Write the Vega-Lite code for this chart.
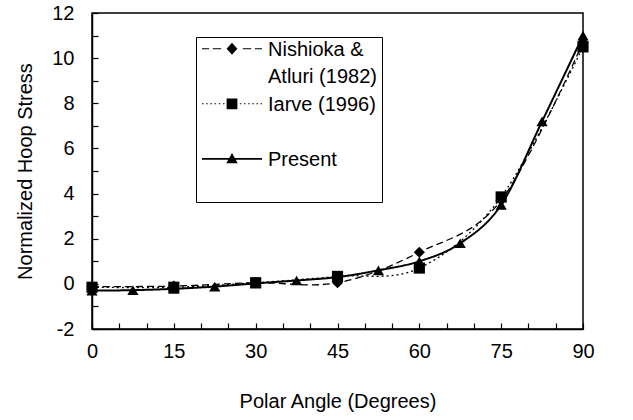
{
  "$schema": "https://vega.github.io/schema/vega-lite/v6.json",
  "width": 491,
  "height": 316,
  "autosize": "none",
  "padding": {"left": 92, "top": 13, "right": 50, "bottom": 91},
  "config": {
    "font": "Liberation Sans",
    "view": {"stroke": "black", "strokeWidth": 1.5},
    "style": {"guide-label": {"lineHeight": 27}},
    "axis": {
      "grid": false,
      "domainColor": "black",
      "domainWidth": 1.5,
      "tickColor": "black",
      "tickWidth": 1.2,
      "tickSize": -6,
      "labelColor": "black",
      "labelFont": "Liberation Sans",
      "labelFontSize": 20,
      "titleFont": "Liberation Sans",
      "titleFontSize": 20,
      "titleFontWeight": "normal",
      "titleColor": "black",
      "labelOverlap": false,
      "labelFlush": false
    }
  },
  "data": {
    "values": [
      {"series": "Nishioka & Atluri (1982)", "angle": 0, "stress": -0.12},
      {"series": "Nishioka & Atluri (1982)", "angle": 15, "stress": -0.1},
      {"series": "Nishioka & Atluri (1982)", "angle": 30, "stress": 0.05},
      {"series": "Nishioka & Atluri (1982)", "angle": 45, "stress": 0.05},
      {"series": "Nishioka & Atluri (1982)", "angle": 60, "stress": 1.4},
      {"series": "Nishioka & Atluri (1982)", "angle": 75, "stress": 3.7},
      {"series": "Nishioka & Atluri (1982)", "angle": 90, "stress": 10.7},
      {"series": "Iarve (1996)", "angle": 0, "stress": -0.15},
      {"series": "Iarve (1996)", "angle": 15, "stress": -0.15},
      {"series": "Iarve (1996)", "angle": 30, "stress": 0.05},
      {"series": "Iarve (1996)", "angle": 45, "stress": 0.33},
      {"series": "Iarve (1996)", "angle": 60, "stress": 0.7},
      {"series": "Iarve (1996)", "angle": 75, "stress": 3.85},
      {"series": "Iarve (1996)", "angle": 90, "stress": 10.5},
      {"series": "Present", "angle": 0, "stress": -0.3},
      {"series": "Present", "angle": 7.5, "stress": -0.28},
      {"series": "Present", "angle": 15, "stress": -0.22},
      {"series": "Present", "angle": 22.5, "stress": -0.12},
      {"series": "Present", "angle": 30, "stress": 0.02},
      {"series": "Present", "angle": 37.5, "stress": 0.15},
      {"series": "Present", "angle": 45, "stress": 0.3},
      {"series": "Present", "angle": 52.5, "stress": 0.6},
      {"series": "Present", "angle": 60, "stress": 1.0},
      {"series": "Present", "angle": 67.5, "stress": 1.8},
      {"series": "Present", "angle": 75, "stress": 3.5},
      {"series": "Present", "angle": 82.5, "stress": 7.2},
      {"series": "Present", "angle": 90, "stress": 11.0}
    ]
  },
  "encoding": {
    "x": {
      "field": "angle",
      "type": "quantitative",
      "scale": {"domain": [0, 90], "nice": false, "zero": false},
      "axis": {
        "title": "Polar Angle (Degrees)",
        "values": [0, 5, 10, 15, 20, 25, 30, 35, 40, 45, 50, 55, 60, 65, 70, 75, 80, 85, 90],
        "labelExpr": "datum.value % 15 === 0 ? datum.label : ''",
        "labelPadding": 18,
        "titlePadding": 30
      }
    },
    "y": {
      "field": "stress",
      "type": "quantitative",
      "scale": {"domain": [-2, 12], "nice": false, "zero": false},
      "axis": {
        "title": "Normalized Hoop Stress",
        "values": [-2, -1, 0, 1, 2, 3, 4, 5, 6, 7, 8, 9, 10, 11, 12],
        "labelExpr": "datum.value % 2 === 0 ? '' + datum.value : ''",
        "labelPadding": 24,
        "titlePadding": 16
      }
    }
  },
  "resolve": {"scale": {"shape": "independent"}, "legend": {"shape": "independent"}},
  "layer": [
    {
      "mark": {"type": "line", "interpolate": "cardinal", "color": "black"},
      "encoding": {
        "detail": {"field": "series", "type": "nominal"},
        "strokeDash": {
          "condition": [
            {"test": "datum.series === 'Nishioka & Atluri (1982)'", "value": [7, 4]},
            {"test": "datum.series === 'Iarve (1996)'", "value": [2, 3]}
          ],
          "value": [1, 0]
        },
        "strokeWidth": {
          "condition": {"test": "datum.series === 'Present'", "value": 2},
          "value": 1.3
        }
      }
    },
    {
      "mark": {"type": "point", "filled": true, "color": "black", "opacity": 1, "size": 125},
      "encoding": {
        "shape": {
          "field": "series",
          "type": "nominal",
          "scale": {"domain": ["Nishioka & Atluri (1982)", "Iarve (1996)", "Present"], "range": ["diamond", "square", "triangle-up"]},
          "legend": null
        }
      }
    },
    {
      "transform": [{"filter": "datum.angle < -100"}],
      "mark": {"type": "point", "filled": true, "color": "black", "stroke": "black", "strokeWidth": 0.4, "opacity": 1, "size": 729},
      "encoding": {
        "shape": {
          "field": "series",
          "type": "nominal",
          "scale": {
            "domain": ["Nishioka & Atluri (1982)", "Iarve (1996)", "Present"],
            "range": [
              "M-2.222,-0.57H-1.689V-0.496H-2.222Z M-1.422,-0.57H-0.8V-0.496H-1.422Z M0.8,-0.57H1.422V-0.496H0.8Z M1.689,-0.57H2.222V-0.496H1.689Z M0,-0.978L0.4,-0.533L0,-0.089L-0.4,-0.533Z",
              "M-2.222,-0.57h0.111V-0.496h-0.111Z M-1.911,-0.57h0.111V-0.496h-0.111Z M-1.6,-0.57h0.111V-0.496h-0.111Z M-1.289,-0.57h0.111V-0.496h-0.111Z M-0.978,-0.57h0.111V-0.496h-0.111Z M-0.667,-0.57h0.111V-0.496h-0.111Z M0.578,-0.57h0.111V-0.496h-0.111Z M0.889,-0.57h0.111V-0.496h-0.111Z M1.2,-0.57h0.111V-0.496h-0.111Z M1.511,-0.57h0.111V-0.496h-0.111Z M1.822,-0.57h0.111V-0.496h-0.111Z M2.111,-0.57h0.111V-0.496h-0.111Z M-0.4,-0.933H0.4V-0.133H-0.4Z",
              "M-2.222,-0.6H2.222V-0.467H-2.222Z M0,-0.956L0.422,-0.2L-0.422,-0.2Z"
            ]
          },
          "legend": {
            "title": null,
            "orient": "none",
            "legendX": 104,
            "legendY": 24,
            "strokeColor": "black",
            "fillColor": "white",
            "padding": 5,
            "rowPadding": 8,
            "symbolSize": 729,
            "symbolOffset": 17,
            "symbolFillColor": "black",
            "symbolStrokeColor": "black",
            "symbolStrokeWidth": 0.4,
            "symbolOpacity": 1,
            "labelOffset": 22,
            "labelFont": "Liberation Sans",
            "labelFontSize": 20,
            "labelColor": "black",
            "labelLimit": 400,
            "labelBaseline": "alphabetic",
            "labelExpr": "datum.value === 'Nishioka & Atluri (1982)' ? ['Nishioka &', 'Atluri (1982)'] : datum.value === 'Iarve (1996)' ? ['Iarve (1996)', ''] : ['Present', '']"
          }
        }
      }
    }
  ]
}
